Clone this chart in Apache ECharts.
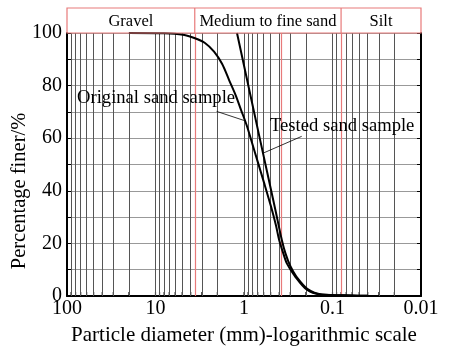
<!DOCTYPE html>
<html>
<head>
<meta charset="utf-8">
<script src="https://cdn.jsdelivr.net/npm/echarts@6/dist/echarts.min.js"></script>
<style>
  html, body { margin: 0; padding: 0; background: #fff; }
  #chart { width: 449px; height: 346px; }
</style>
</head>
<body>
<div id="chart"></div>
<script>
// Particle size distribution (percentage finer vs. diameter, log scale)
const FONT = '"Liberation Serif", "DejaVu Serif", serif';

// diameter (mm) / percentage finer (%)
const originalDiam = [20, 8, 4.89, 3.58, 2.76, 2.18, 1.77, 1.477, 1.247, 1.081, 0.937, 0.812, 0.695, 0.594, 0.495, 0.435, 0.402, 0.362, 0.327, 0.265, 0.196, 0.138, 0.063, 0.04];
const originalPct  = [100, 99.9, 99.35, 98.0, 96.2, 92.9, 88.3, 82.2, 76.5, 70.8, 65.1, 58.3, 50.7, 43.1, 34.0, 26.8, 21.5, 16.5, 12.3, 7.5, 2.5, 0.6, 0.2, 0.1];

const testedDiam = [1.2, 0.672, 0.443, 0.375, 0.34, 0.3, 0.255, 0.189, 0.1315, 0.06, 0.04];
const testedPct  = [100, 60.8, 32.9, 21.5, 16.2, 11.4, 7.3, 2.5, 0.6, 0.2, 0.1];

// soil class bands along the diameter axis
const bandNames = ['Gravel', 'Medium to fine sand', 'Silt'];
const bandEdges = [100, 3.6, 0.08, 0.01];
const midLine = 0.375;           // extra boundary inside the sand band

const xTicks = [100, 10, 1, 0.1, 0.01];
const yTicks = [0, 20, 40, 60, 80, 100];

// curve annotations
const annOriginal = { text: 'Original sand sample', at: [77, 75.3], leader: [[2.04, 70.2], [0.95, 66.5]] };
const annTested   = { text: 'Tested sand sample',   at: [0.508, 64.5], leader: [[0.223, 60.7], [0.6, 54.4]] };

// log-cycle grid values (1..9 within each decade)
const gridValues = [];
[10, 1, 0.1, 0.01].forEach(base => {
  for (let k = 1; k <= 9; k++) {
    const v = +(base * k).toPrecision(3);
    if (v > 0.01 && v < 100) gridValues.push(v);
  }
});

const zip = (a, b) => a.map((v, i) => [v, b[i]]);

const chart = echarts.init(document.getElementById('chart'));

const option = {
  animation: false,
  backgroundColor: '#fff',
  grid: { left: 67, right: 28, top: 33, bottom: 50, containLabel: false },
  xAxis: {
    type: 'log', logBase: 10, min: 0.01, max: 100, inverse: true,
    axisLine: { lineStyle: { color: '#000', width: 2 } },
    axisTick: { show: false },
    splitLine: { show: false },
    axisLabel: {
      color: '#000', fontFamily: FONT, fontSize: 20, margin: 3,
      formatter: v => (xTicks.some(t => Math.abs(t - v) / t < 1e-6) ? String(v) : '')
    }
  },
  yAxis: [{
    type: 'value', min: 0, max: 100, interval: 10,
    axisLine: { show: true, lineStyle: { color: '#000', width: 2 } },
    axisTick: { show: true, inside: true, length: 4, lineStyle: { color: '#000' } },
    splitLine: { show: true, lineStyle: { color: '#999', width: 1 } },
    axisLabel: {
      color: '#000', fontFamily: FONT, fontSize: 20, margin: 5,
      formatter: v => (yTicks.indexOf(v) >= 0 ? String(v) : '')
    }
  }, {
    type: 'value', min: 0, max: 100, interval: 10, position: 'right',
    axisLine: { show: true, lineStyle: { color: '#000', width: 2 } },
    axisTick: { show: true, inside: true, length: 4, lineStyle: { color: '#000' } },
    splitLine: { show: false },
    axisLabel: { show: false }
  }],
  series: [
    {
      // vertical log grid and class boundaries
      type: 'line', data: [], z: 1, silent: true,
      markLine: {
        silent: true, symbol: 'none', label: { show: false }, animation: false,
        lineStyle: { color: '#555', width: 1, type: 'solid' },
        data: gridValues.map(v => ({ xAxis: v })).concat(
          [bandEdges[1], midLine, bandEdges[2]].map(v => ({ xAxis: v, lineStyle: { color: '#e87a7a', width: 1.2 } }))
        )
      }
    },
    {
      // short inward ticks on the diameter axis
      type: 'scatter', z: 3, silent: true, clip: false,
      symbol: 'rect', symbolSize: [1.2, 4], symbolOffset: [0, -2],
      itemStyle: { color: '#000' },
      data: gridValues.concat([100, 0.01]).map(v => [v, 0])
    },
    {
      name: 'Original sand sample', type: 'line', z: 5,
      data: zip(originalDiam, originalPct), smooth: 0.3, symbol: 'none',
      lineStyle: { color: '#000', width: 2 },
      markLine: {
        silent: true, symbol: 'none', label: { show: false },
        lineStyle: { color: '#000', width: 0.8, type: 'solid' },
        data: [[{ coord: annOriginal.leader[0] }, { coord: annOriginal.leader[1] }]]
      }
    },
    {
      name: 'Tested sand sample', type: 'line', z: 5,
      data: zip(testedDiam, testedPct), smooth: 0.3, symbol: 'none',
      lineStyle: { color: '#000', width: 2 },
      markLine: {
        silent: true, symbol: 'none', label: { show: false },
        lineStyle: { color: '#000', width: 0.8, type: 'solid' },
        data: [[{ coord: annTested.leader[0] }, { coord: annTested.leader[1] }]]
      }
    }
  ]
};
chart.setOption(option);

// class band above the plot, positioned from the axis scale
const px = v => chart.convertToPixel({ xAxisIndex: 0 }, v);
const py = v => chart.convertToPixel({ yAxisIndex: 0 }, v);
const topY = py(100);
const bandTop = 8;
const graphic = [];
const RED = '#e87a7a';
graphic.push({
  type: 'rect', z: 10, silent: true,
  shape: { x: px(bandEdges[0]), y: bandTop, width: px(bandEdges[3]) - px(bandEdges[0]), height: topY - bandTop },
  style: { fill: 'none', stroke: RED, lineWidth: 1.2 }
});
for (let i = 0; i < bandNames.length; i++) {
  const x0 = px(bandEdges[i]), x1 = px(bandEdges[i + 1]);
  if (i > 0) {
    graphic.push({ type: 'line', z: 10, silent: true, shape: { x1: x0, y1: bandTop, x2: x0, y2: topY }, style: { stroke: RED, lineWidth: 1.2 } });
  }
  graphic.push({
    type: 'text', z: 10, silent: true,
    style: { text: bandNames[i], x: (x0 + x1) / 2, y: (bandTop + topY) / 2 + 1, align: 'center', verticalAlign: 'middle',
             font: '16.5px ' + FONT, fill: '#000' }
  });
}
// curve annotations
[annOriginal, annTested].forEach(a => {
  graphic.push({
    type: 'text', z: 10, silent: true,
    style: { text: a.text, x: px(a.at[0]), y: py(a.at[1]), align: 'left', verticalAlign: 'middle',
             font: '18.6px ' + FONT, fill: '#000' }
  });
});
// axis titles
graphic.push({
  type: 'text', z: 10, silent: true,
  style: { text: 'Particle diameter (mm)-logarithmic scale', x: (px(100) + px(0.01)) / 2, y: 335,
           align: 'center', verticalAlign: 'middle', font: '21px ' + FONT, fill: '#000' }
});
graphic.push({
  type: 'text', z: 10, silent: true, x: 20, y: 191, rotation: Math.PI / 2,
  style: { text: 'Percentage finer/%', x: 0, y: 0, align: 'center', verticalAlign: 'middle',
           font: '20.5px ' + FONT, fill: '#000' }
});
chart.setOption({ graphic: graphic });
</script>
</body>
</html>
